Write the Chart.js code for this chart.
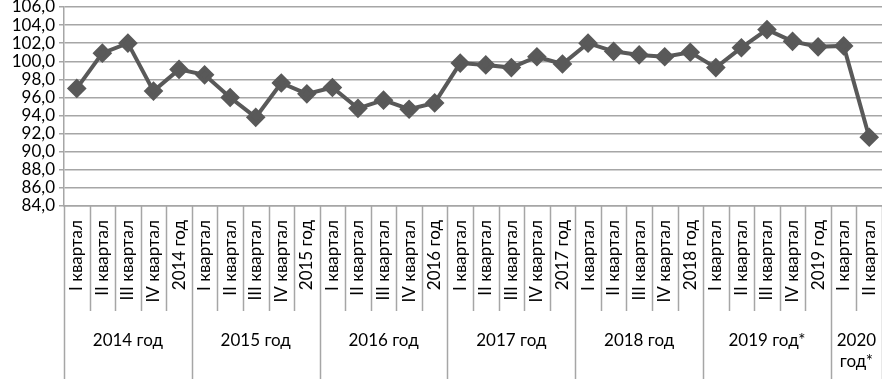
<!DOCTYPE html>
<html>
<head>
<meta charset="utf-8">
<script src="https://cdn.jsdelivr.net/npm/chart.js@4/dist/chart.umd.min.js"></script>
<style>
  html, body { margin: 0; padding: 0; background: #fff; overflow: hidden; }
  #wrap { width: 882px; height: 379px; position: relative; }
</style>
</head>
<body>
<div id="wrap"><canvas id="indexChart"></canvas></div>
<script>
const categories = [
    'I квартал', 'II квартал', 'III квартал', 'IV квартал', '2014 год',
    'I квартал', 'II квартал', 'III квартал', 'IV квартал', '2015 год',
    'I квартал', 'II квартал', 'III квартал', 'IV квартал', '2016 год',
    'I квартал', 'II квартал', 'III квартал', 'IV квартал', '2017 год',
    'I квартал', 'II квартал', 'III квартал', 'IV квартал', '2018 год',
    'I квартал', 'II квартал', 'III квартал', 'IV квартал', '2019 год',
    'I квартал', 'II квартал'
];
const groupLabels = ['2014 год', '2015 год', '2016 год', '2017 год', '2018 год', '2019 год*', '2020 год*'];
const groupSizes = [5, 5, 5, 5, 5, 5, 2];
const values = [
    97.0, 100.9, 102.0, 96.7, 99.1,
    98.5, 96.0, 93.8, 97.6, 96.4,
    97.1, 94.8, 95.7, 94.7, 95.4,
    99.8, 99.6, 99.3, 100.5, 99.7,
    102.0, 101.1, 100.7, 100.5, 101.0,
    99.3, 101.5, 103.5, 102.2, 101.6,
    101.7, 91.6
];
const yMin = 84, yMax = 106, yStep = 2;

const gridColor = '#a6a6a6';
const lineColor = '#595959';
const fontFamily = 'Lato, "Liberation Sans", sans-serif';

// подписи групп (годы) и разделители под осью X
const groupAxisPlugin = {
    id: 'groupAxis',
    afterDraw(chart) {
        const ctx = chart.ctx;
        const xs = chart.scales.x;
        const half = (xs.getPixelForValue(1) - xs.getPixelForValue(0)) / 2;
        const top = xs.top;
        const bottom = chart.height;
        const edge = i => xs.getPixelForValue(i) - half;

        const groupStarts = new Set();
        let acc = 0;
        groupSizes.forEach(n => { groupStarts.add(acc); acc += n; });
        groupStarts.add(acc);

        ctx.save();
        ctx.strokeStyle = gridColor;
        ctx.lineWidth = 1.5;
        for (let i = 0; i <= categories.length; i++) {
            const x = Math.round(edge(i)) + 0.5;
            ctx.beginPath();
            ctx.moveTo(x, top);
            ctx.lineTo(x, groupStarts.has(i) ? bottom : top + 105);
            ctx.stroke();
        }

        ctx.fillStyle = '#000';
        ctx.font = '17px ' + fontFamily;
        ctx.textAlign = 'center';
        ctx.textBaseline = 'middle';
        let start = 0;
        groupLabels.forEach((label, g) => {
            const x0 = edge(start), x1 = edge(start + groupSizes[g]);
            const cx = (x0 + x1) / 2;
            const y = top + 135;
            if (ctx.measureText(label).width > x1 - x0 - 6) {
                label.split(' ').forEach((part, k) => ctx.fillText(part, cx, y + k * 21));
            } else {
                ctx.fillText(label, cx, y);
            }
            start += groupSizes[g];
        });
        ctx.restore();
    }
};

new Chart(document.getElementById('indexChart'), {
    type: 'line',
    data: {
        labels: categories,
        datasets: [{
            data: values,
            borderColor: lineColor,
            backgroundColor: lineColor,
            borderWidth: 4,
            pointStyle: 'rectRot',
            pointRadius: 7,
            pointBackgroundColor: lineColor,
            pointBorderColor: lineColor,
            tension: 0
        }]
    },
    options: {
        responsive: true,
        maintainAspectRatio: false,
        animation: false,
        layout: { autoPadding: false, padding: { top: 7, right: 0, left: 0, bottom: 0 } },
        plugins: {
            legend: { display: false },
            tooltip: { enabled: false }
        },
        scales: {
            x: {
                offset: true,
                grid: { display: false },
                border: { display: true, color: gridColor, width: 1.5 },
                ticks: {
                    autoSkip: false,
                    minRotation: 90,
                    maxRotation: 90,
                    padding: 6,
                    color: '#000',
                    font: { family: fontFamily, size: 17 }
                },
                afterFit: s => {
                    s.height = 173;
                    s.paddingLeft = 0;
                    s.paddingRight = 0;
                }
            },
            y: {
                min: yMin,
                max: yMax,
                grid: { color: gridColor, lineWidth: 1.5, tickLength: 5 },
                border: { display: true, color: gridColor, width: 1.5 },
                ticks: {
                    stepSize: yStep,
                    autoSkip: false,
                    padding: 4,
                    color: '#000',
                    font: { family: fontFamily, size: 17 },
                    callback: v => v.toFixed(1).replace('.', ',')
                },
                afterFit: s => {
                    s.width = 64;
                    s.paddingTop = 0;
                    s.paddingBottom = 0;
                }
            }
        }
    },
    plugins: [groupAxisPlugin]
});
</script>
</body>
</html>
